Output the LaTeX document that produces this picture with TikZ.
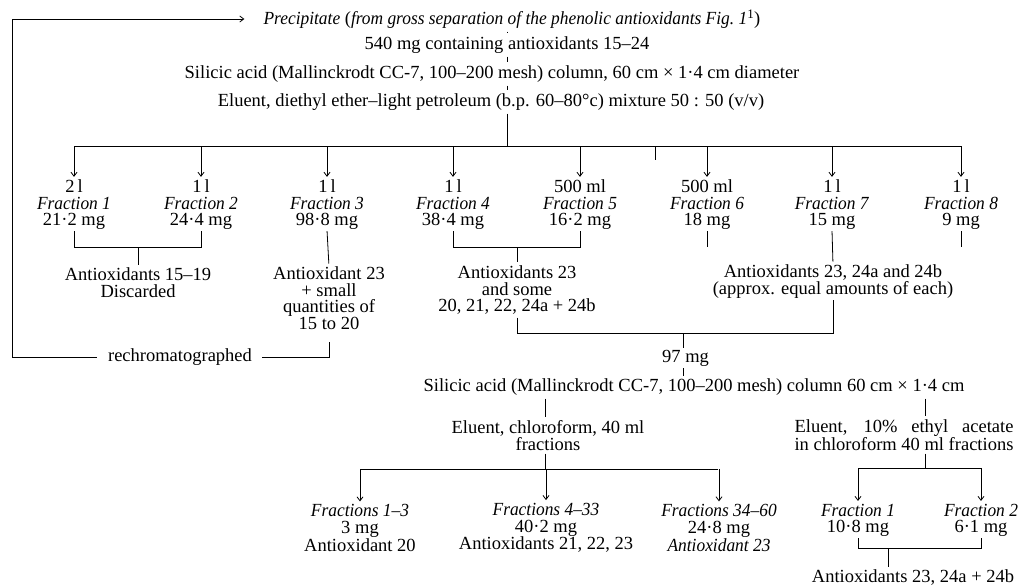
\documentclass[tikz,border=0pt]{standalone}
\usepackage{fontspec}
\setmainfont{Liberation Serif}[ItalicFeatures={FakeStretch=0.94}]
\usetikzlibrary{arrows.meta}
\newlength\elw
\begin{document}
\begin{tikzpicture}[x=1pt,y=-1pt,
  every node/.style={inner sep=0pt, font=\fontsize{18.5}{16.5}\selectfont, align=center},
  ln/.style={line width=0.8pt},
  arr/.style={line width=0.8pt, -{Straight Barb[length=4pt,width=6pt]}, shorten >=3pt},
]
\useasboundingbox (0,0) rectangle (1021,587);
% top chain
\node (prec) at (512,19) {\textit{Precipitate} (\textit{from gross separation of the phenolic antioxidants Fig.~1}\textsuperscript{1})};
\node (m540) at (507,45) {540 mg containing antioxidants 15–24};
\node (sil1) at (492,74) {Silicic acid (Mallinckrodt CC-7, 100–200 mesh) column, 60 cm × 1·4 cm diameter};
\node (elu1) at (491,102) {Eluent, diethyl ether–light petroleum (b.p. 60–80°c) mixture 50 : 50 (v/v)};
\coordinate (ax) at (507,0);
\draw[ln,shorten <=3pt,shorten >=3pt] (prec.south -| ax) -- (m540.north -| ax);
\draw[ln,shorten <=3pt,shorten >=3pt] (m540.south -| ax) -- (sil1.north -| ax);
\draw[ln,shorten <=3pt,shorten >=3pt] (sil1.south -| ax) -- (elu1.north -| ax);
\coordinate (bus) at (507,146);
\coordinate (busL) at (74,146);
\coordinate (busR) at (961,146);
\draw[ln,shorten <=3pt] (elu1.south -| ax) -- (bus);
\draw[ln] (busL) -- (busR);
\coordinate (s1) at (655,146);
\coordinate (s2) at (655,160);
\draw[ln] (s1) -- (s2);
% fractions
\node (f1) at (74,205) {2\,l\\\textit{Fraction 1}\\21·2 mg};
\node (f2) at (201,205) {1\,l\\\textit{Fraction 2}\\24·4 mg};
\node (f3) at (327,205) {1\,l\\\textit{Fraction 3}\\98·8 mg};
\node (f4) at (453,205) {1\,l\\\textit{Fraction 4}\\38·4 mg};
\node (f5) at (580,205) {500 ml\\\textit{Fraction 5}\\16·2 mg};
\node (f6) at (707,205) {500 ml\\\textit{Fraction 6}\\18 mg};
\node (f7) at (832,205) {1\,l\\\textit{Fraction 7}\\15 mg};
\node (f8) at (961,205) {1\,l\\\textit{Fraction 8}\\9 mg};
\foreach \f in {f1,f2,f3,f4,f5,f6,f7,f8}{
  \draw[arr] (\f.north |- busL) -- (\f.north);
}
% results
\coordinate (br1) at (138,247);
\coordinate (br2) at (517,247);
\node (a12) at (138,282.5) {Antioxidants 15–19\\Discarded};
\node (a3) at (329,298) {Antioxidant 23\\+ small\\quantities of\\15 to 20};
\node (a45) at (517,290) {Antioxidants 23\\and some\\20, 21, 22, 24a + 24b};
\node (a7) at (833,281.5) {Antioxidants 23, 24a and 24b\\(approx. equal amounts of each)};
\draw[ln,shorten <=1pt,shorten >=1pt] (f1.south) -- (f1.south |- br1) -- (f2.south |- br1) -- (f2.south);
\draw[ln,shorten >=3pt] (br1) -- (a12.north);
\draw[ln,shorten <=1pt,shorten >=3pt] (f3.south) -- (a3.north);
\draw[ln,shorten <=1pt,shorten >=1pt] (f4.south) -- (f4.south |- br2) -- (f5.south |- br2) -- (f5.south);
\draw[ln,shorten >=3pt] (br2) -- (a45.north);
\draw[ln,shorten <=1pt] (f6.south) -- (f6.south |- br1);
\draw[ln,shorten <=1pt] (f8.south) -- (f8.south |- br1);
\draw[ln,shorten <=1pt,shorten >=3pt] (f7.south) -- (a7.north);
% rechromatographed loop
\node (rech) at (180,357) {rechromatographed};
\coordinate (cor1) at (12,357);
\coordinate (cor2) at (12,19);
\draw[arr,shorten <=11pt,shorten >=19pt] (rech.west) -- (cor1) -- (cor2) -- (prec.west);
\draw[ln,shorten <=10pt,shorten >=13pt] (rech.east) -- (rech.east -| a3) -- (a3.south);
% 97 mg
\coordinate (br3) at (683,333);
\draw[ln,shorten <=3pt,shorten >=2pt] (a45.south) -- (a45.south |- br3) -- (a7.south |- br3) -- (a7.south);
\node (m97) at (685.6,358) {97 mg};
\node (sil2) at (694,387) {Silicic acid (Mallinckrodt CC-7, 100–200 mesh) column 60 cm × 1·4 cm};
\draw[ln,shorten >=2pt] (br3) -- (m97.north -| br3);
\draw[ln,shorten <=2pt,shorten >=2pt] (m97.south -| br3) -- (sil2.north -| br3);
% left and right branches
\coordinate (cL) at (545,0);
\coordinate (cR) at (925,0);
\node (elu2) at (548,435.5) {Eluent, chloroform, 40 ml\\fractions};
\node (elu3) at (904,435) {\settowidth{\elw}{in chloroform 40 ml fractions}\makebox[\elw][s]{Eluent, 10\% ethyl acetate}\\in chloroform 40 ml fractions};
\draw[ln,shorten <=3pt,shorten >=3pt] (sil2.south -| cL) -- (elu2.north -| cL);
\draw[ln,shorten <=3pt,shorten >=3pt] (sil2.south -| cR) -- (elu3.north -| cR);
\coordinate (bus2) at (545,469);
\coordinate (b2L) at (360,469);
\coordinate (b2R) at (718,469);
\draw[ln,shorten <=3pt] (elu2.south -| cL) -- (bus2);
\draw[ln] (b2L) -- (b2R);
\node (g1) at (360,528) {\textit{Fractions 1–3}\\3 mg\\Antioxidant 20};
\node (g2) at (546,528) {\textit{Fractions 4–33}\\40·2 mg\\Antioxidants 21, 22, 23};
\node (g3) at (719,528) {\textit{Fractions 34–60}\\24·8 mg\\\textit{Antioxidant 23}};
\foreach \g in {g1,g2,g3}{
  \draw[arr] (\g.north |- b2L) -- (\g.north);
}
\coordinate (br4) at (925,468);
\draw[ln,shorten <=3pt] (elu3.south -| cR) -- (br4);
\node (h1) at (858,520.5) {\textit{Fraction 1}\\10·8 mg};
\node (h2) at (981,520.5) {\textit{Fraction 2}\\6·1 mg};
\draw[ln] (h1.north |- br4) -- (h2.north |- br4);
\draw[arr] (h1.north |- br4) -- (h1.north);
\draw[arr] (h2.north |- br4) -- (h2.north);
\coordinate (br5) at (888,548);
\node (fin) at (913,577) {Antioxidants 23, 24a + 24b};
\draw[ln,shorten <=1pt,shorten >=1pt] (h1.south) -- (h1.south |- br5) -- (h2.south |- br5) -- (h2.south);
\draw[ln,shorten >=2pt] (br5) -- (fin.north -| br5);
\end{tikzpicture}
\end{document}
